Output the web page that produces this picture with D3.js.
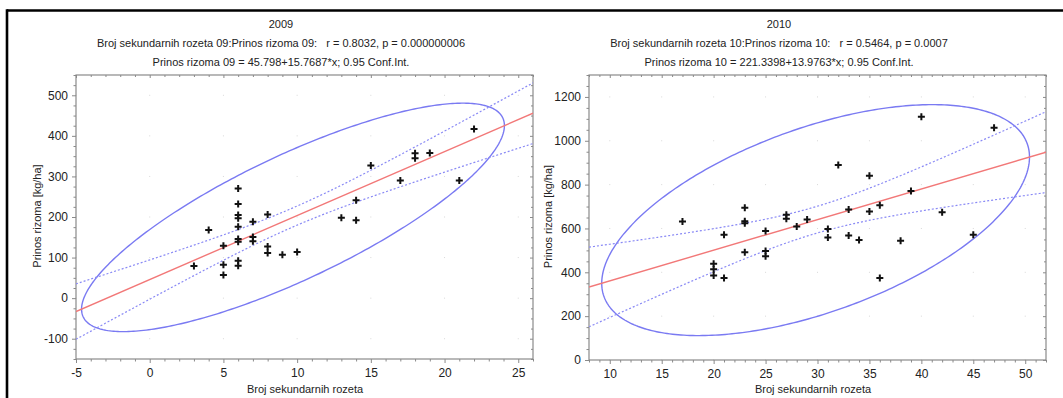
<!DOCTYPE html>
<html><head><meta charset="utf-8">
<script src="https://cdn.jsdelivr.net/npm/d3@7"></script>
<style>
html,body{margin:0;padding:0;background:#fff;}
svg{display:block;font-family:"Liberation Sans",Arial,sans-serif;}
</style></head>
<body><svg id="c" width="1063" height="398"></svg>
<script>
// ---------- data ----------
const years = ["2009", "2010"];
const x2009 = [3,4,5,5,5,6,6,6,6,6,6,6,6,6,7,7,7,8,8,8,9,10,13,14,14,15,17,18,18,19,21,22];
const y2009 = [79,168,129,82,57,270,232,205,197,176,146,139,92,80,188,151,140,206,127,111,107,114,198,192,241,327,290,357,345,358,290,417];
const x2010 = [17,20,20,20,21,21,23,23,23,23,25,25,25,27,27,28,29,31,31,32,33,33,34,35,35,36,36,38,39,40,42,45,47];
const y2010 = [632,439,414,386,571,374,694,633,624,492,588,497,473,662,644,609,641,597,559,889,686,568,547,841,677,706,374,544,771,1110,674,571,1059];
const intercepts = [45.798, 221.3398];
const slopes = [15.7687, 13.9763];
const rValues = [0.8032, 0.5464];
const confLevel = 0.95;
const xDomain2009 = [-5, 26], yDomain2009 = [-150, 550];
const xDomain2010 = [8, 52], yDomain2010 = [0, 1300];
const xTicks2009 = [-5,0,5,10,15,20,25];
const yTicks2009 = [-100,0,100,200,300,400,500];
const xTicks2010 = [10,15,20,25,30,35,40,45,50];
const yTicks2010 = [0,200,400,600,800,1000,1200];
const subtitles1 = ["Broj sekundarnih rozeta 09:Prinos rizoma 09:   r = 0.8032, p = 0.000000006",
                    "Broj sekundarnih rozeta 10:Prinos rizoma 10:   r = 0.5464, p = 0.0007"];
const subtitles2 = ["Prinos rizoma 09 = 45.798+15.7687*x; 0.95 Conf.Int.",
                    "Prinos rizoma 10 = 221.3398+13.9763*x; 0.95 Conf.Int."];
const xLabel = "Broj sekundarnih rozeta";
const yLabel = "Prinos rizoma [kg/ha]";

// ---------- stats helpers ----------
function tQuantile(p, df){
  const k = t => Math.pow(1 + t*t/df, -(df+1)/2);
  const integ = (a,b,n) => { const h=(b-a)/n; let s=k(a)+k(b); for(let i=1;i<n;i++) s += (i%2?4:2)*k(a+i*h); return s*h/3; };
  const total = integ(0, 200, 40000);
  const cdf = t => 0.5 + integ(0, t, 4000)/(2*total);
  let lo=0, hi=20; for(let i=0;i<60;i++){ const m=(lo+hi)/2; if(cdf(m)<p) lo=m; else hi=m; }
  return (lo+hi)/2;
}
// x statistics from the points; y spread from the printed slope and r
function stats(xs, a, b, r){
  const n = xs.length, mx = d3.mean(xs);
  const sxx = d3.sum(xs, x => (x-mx)**2);
  const sx = Math.sqrt(sxx/(n-1));
  const sy = b*sx/r, my = a + b*mx;
  const s = sy*Math.sqrt(1-r*r)*Math.sqrt((n-1)/(n-2));
  const d2 = n-2, F = d2/2*(Math.pow(1-confLevel, -2/d2) - 1);
  const kEll = Math.sqrt(2*(n-1)/(n-2)*F);
  return {n, mx, my, sxx, s, sx, sy, r, t: tQuantile(1-(1-confLevel)/2, n-2), kEll};
}

// ---------- drawing ----------
const svg = d3.select("#c");
svg.append("line").attr("x1",7).attr("x2",1063).attr("y1",10.5).attr("y2",10.5).attr("stroke","#000").attr("stroke-width",2.6);
svg.append("line").attr("x1",7).attr("x2",7).attr("y1",9.2).attr("y2",398).attr("stroke","#000").attr("stroke-width",2.6);

const panels = [
  {xs:x2009, ys:y2009, xd:xDomain2009, yd:yDomain2009, xt:xTicks2009, yt:yTicks2009, xm:1, ym:25,
   l:76, r:533, t:75, b:359, cx:281, ylx:37, xlx:305},
  {xs:x2010, ys:y2010, xd:xDomain2010, yd:yDomain2010, xt:xTicks2010, yt:yTicks2010, xm:1, ym:50,
   l:589, r:1046, t:75, b:360, cx:779, ylx:548, xlx:813}
];
const fmt = d => String(d);

panels.forEach((p, i) => {
  const g = svg.append("g");
  const x = d3.scaleLinear().domain(p.xd).range([p.l, p.r]);
  const y = d3.scaleLinear().domain(p.yd).range([p.b, p.t]);
  const a = intercepts[i], b = slopes[i];
  const st = stats(p.xs, a, b, rValues[i]);

  const tf = "#222";
  g.append("text").attr("x",p.cx).attr("y",28).attr("text-anchor","middle").attr("font-size",11).attr("fill",tf).text(years[i]);
  g.append("text").attr("x",p.cx).attr("y",46.5).attr("text-anchor","middle").attr("font-size",11).attr("fill",tf)
    .style("white-space","pre").text(subtitles1[i]);
  g.append("text").attr("x",p.cx).attr("y",65.5).attr("text-anchor","middle").attr("font-size",11).attr("fill",tf).text(subtitles2[i]);

  const cid = "clip"+i;
  svg.append("clipPath").attr("id",cid).append("rect").attr("x",p.l).attr("y",p.t).attr("width",p.r-p.l).attr("height",p.b-p.t);

  const gd = g.append("g");
  p.xt.forEach(tx => p.yt.forEach(ty => {
    gd.append("rect").attr("x",x(tx)-0.5).attr("y",y(ty)-0.5).attr("width",1).attr("height",1).attr("fill","#d8d8d8");
  }));

  const ax = "#8a8a8a";
  const minorX = d3.range(p.xd[0], p.xd[1]+1e-9, p.xm).filter(v => !p.xt.includes(v));
  const minorY = d3.range(Math.ceil(p.yd[0]/p.ym)*p.ym, p.yd[1]+1e-9, p.ym).filter(v => !p.yt.includes(v));
  const bottom = d3.axisBottom(x).tickValues(p.xt).tickSize(4).tickPadding(5).tickFormat(fmt);
  const left = d3.axisLeft(y).tickValues(p.yt).tickSize(4).tickPadding(4).tickFormat(fmt);
  g.append("g").attr("transform",`translate(0,${p.b})`).call(bottom);
  g.append("g").attr("transform",`translate(${p.l},0)`).call(left);
  g.append("g").attr("transform",`translate(0,${p.b})`).call(d3.axisBottom(x).tickValues(minorX).tickSize(2.5).tickFormat(""));
  g.append("g").attr("transform",`translate(${p.l},0)`).call(d3.axisLeft(y).tickValues(minorY).tickSize(2.5).tickFormat(""));
  g.append("g").attr("transform",`translate(0,${p.t})`).call(d3.axisBottom(x).tickValues(p.xt).tickSize(3).tickFormat(""));
  g.append("g").attr("transform",`translate(0,${p.t})`).call(d3.axisBottom(x).tickValues(minorX).tickSize(2).tickFormat(""));
  g.append("g").attr("transform",`translate(${p.r},0)`).call(d3.axisLeft(y).tickValues(p.yt).tickSize(3).tickFormat(""));
  g.append("g").attr("transform",`translate(${p.r},0)`).call(d3.axisLeft(y).tickValues(minorY).tickSize(2).tickFormat(""));
  g.selectAll(".domain").remove();
  g.selectAll(".tick line").attr("stroke",ax);
  g.selectAll(".tick text").attr("font-size",12).attr("fill","#222").attr("font-family","Liberation Sans, Arial, sans-serif");
  g.append("rect").attr("x",p.l).attr("y",p.t).attr("width",p.r-p.l).attr("height",p.b-p.t)
    .attr("fill","none").attr("stroke",ax).attr("stroke-width",1.2);

  g.append("text").attr("x",p.xlx).attr("y",393).attr("text-anchor","middle").attr("font-size",11).attr("fill","#222").text(xLabel);
  g.append("text").attr("transform",`translate(${p.ylx},${(p.t+p.b)/2 - 1}) rotate(-90)`).attr("text-anchor","middle")
    .attr("dy","0.35em").attr("font-size",11).attr("fill","#222").text(yLabel);

  const pg = g.append("g").attr("clip-path",`url(#${cid})`);
  const th = d3.range(0, 2*Math.PI+0.001, Math.PI/180);
  const ell = th.map(t => [st.mx + st.kEll*st.sx*Math.cos(t),
                           st.my + st.kEll*st.sy*(st.r*Math.cos(t) + Math.sqrt(1-st.r*st.r)*Math.sin(t))]);
  pg.append("path").attr("d", d3.line().x(d => x(d[0])).y(d => y(d[1]))(ell))
    .attr("fill","none").attr("stroke","#7a7af2").attr("stroke-width",1.4);
  const xsLine = d3.range(p.xd[0], p.xd[1]+0.001, (p.xd[1]-p.xd[0])/200);
  [-1, 1].forEach(sg => {
    const band = xsLine.map(v => [v, a + b*v + sg*st.t*st.s*Math.sqrt(1/st.n + (v-st.mx)**2/st.sxx)]);
    pg.append("path").attr("d", d3.line().x(d => x(d[0])).y(d => y(d[1]))(band))
      .attr("fill","none").attr("stroke","#8a8af5").attr("stroke-width",1.2).attr("stroke-dasharray","2,2");
  });
  pg.append("line").attr("x1",x(p.xd[0])).attr("y1",y(a+b*p.xd[0])).attr("x2",x(p.xd[1])).attr("y2",y(a+b*p.xd[1]))
    .attr("stroke","#f27878").attr("stroke-width",1.4);
  const sz = 3.5;
  pg.selectAll("path.pt").data(p.xs.map((v,k) => [v, p.ys[k]])).enter().append("path").attr("class","pt")
    .attr("d", d => `M${x(d[0])-sz},${y(d[1])}H${x(d[0])+sz}M${x(d[0])},${y(d[1])-sz}V${y(d[1])+sz}`)
    .attr("stroke","#111").attr("stroke-width",2).attr("fill","none");
});
</script>
</body></html>
